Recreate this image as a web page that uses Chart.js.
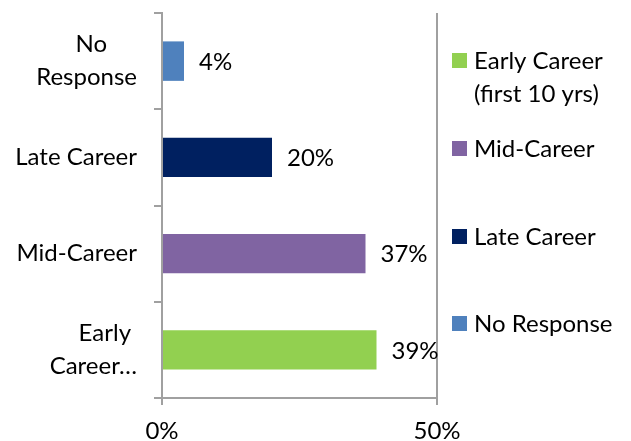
<!DOCTYPE html>
<html lang="en">
<head>
  <meta charset="UTF-8">
  <title>Career stage</title>
  <script src="https://cdn.jsdelivr.net/npm/chart.js"></script>
  <style>
    body {
      margin: 0;
      padding: 0;
      background-color: #fff;
    }
    #wrap {
      width: 631px;
      height: 441px;
      position: relative;
    }
  </style>
</head>
<body>
  <div id="wrap">
    <canvas id="chart"></canvas>
  </div>
  <script>
    // categories, top to bottom as drawn
    const categories = ['No Response', 'Late Career', 'Mid-Career', 'Early Career (first 10 yrs)'];
    // wrapped axis labels; trailing spaces keep the short first lines roughly centred like Excel does
    const axisLabels = [['No\u2003\u2002', 'Response'], 'Late Career', 'Mid-Career', ['Early\u2009\u2009', 'Career\u2026']];
    const values = [4, 20, 37, 39];
    const xTicks = [0, 50];
    const legendLabels = [['Early Career', '(first 10 yrs)'], ['Mid-Career'], ['Late Career'], ['No Response']];

    const colors = ['#4F81BD', '#002060', '#8064A2', '#92D050'];
    const legendColors = ['#92D050', '#8064A2', '#002060', '#4F81BD'];

    const FONT = 'Lato, "Open Sans", sans-serif';
    const SIZE = 24;
    const GRID = '#a0a0a0';

    const valueLabels = {
      id: 'valueLabels',
      afterDatasetsDraw(chart) {
        const ctx = chart.ctx;
        const meta = chart.getDatasetMeta(0);
        ctx.save();
        ctx.font = SIZE + 'px ' + FONT;
        ctx.fillStyle = '#000';
        ctx.textAlign = 'left';
        ctx.textBaseline = 'middle';
        meta.data.forEach(function(bar, i) {
          ctx.fillText(values[i] + '%', bar.x + 15, bar.y + 1);
        });
        ctx.restore();
      }
    };

    const sideLegend = {
      id: 'sideLegend',
      afterDraw(chart) {
        const ctx = chart.ctx;
        const left = chart.chartArea.right + 15;
        const rows = [60, 148, 236, 323];
        ctx.save();
        ctx.font = SIZE + 'px ' + FONT;
        ctx.textAlign = 'left';
        ctx.textBaseline = 'middle';
        legendLabels.forEach(function(lines, i) {
          ctx.fillStyle = legendColors[i];
          ctx.fillRect(left, rows[i] - 7, 15, 15);
          ctx.fillStyle = '#000';
          lines.forEach(function(t, j) {
            ctx.fillText(t, left + 22, rows[i] + 1 + j * 33);
          });
        });
        ctx.restore();
      }
    };

    const ctx = document.getElementById('chart').getContext('2d');
    new Chart(ctx, {
      type: 'bar',
      data: {
        labels: axisLabels,
        datasets: [{
          label: 'Share',
          data: values,
          backgroundColor: colors,
          borderWidth: 0,
          barPercentage: 0.41,
          categoryPercentage: 1
        }]
      },
      options: {
        indexAxis: 'y',
        responsive: true,
        maintainAspectRatio: false,
        animation: false,
        layout: {
          padding: { top: 13, right: 194, left: 0, bottom: 0 }
        },
        scales: {
          x: {
            min: 0,
            max: 50,
            afterBuildTicks: function(scale) {
              scale.ticks = xTicks.map(function(v) { return { value: v }; });
            },
            afterFit: function(scale) {
              scale.height = 43;
              scale.paddingLeft = 0;
              scale.paddingRight = 0;
            },
            grid: {
              color: GRID,
              lineWidth: 2,
              tickLength: 7,
              drawOnChartArea: true
            },
            border: { color: GRID, width: 2 },
            ticks: {
              color: '#000',
              font: { family: FONT, size: SIZE },
              padding: 12,
              maxRotation: 0,
              callback: function(v) { return v + '%'; }
            }
          },
          y: {
            afterFit: function(scale) {
              scale.width = 162;
              scale.paddingTop = 0;
              scale.paddingBottom = 0;
            },
            grid: {
              offset: true,
              color: GRID,
              lineWidth: 2,
              tickLength: 8,
              drawOnChartArea: false
            },
            border: { color: GRID, width: 2 },
            ticks: {
              color: '#000',
              font: { family: FONT, size: SIZE, lineHeight: 1.375 },
              padding: 17
            }
          }
        },
        plugins: {
          legend: { display: false },
          tooltip: { enabled: false }
        }
      },
      plugins: [valueLabels, sideLegend]
    });
  </script>
</body>
</html>
